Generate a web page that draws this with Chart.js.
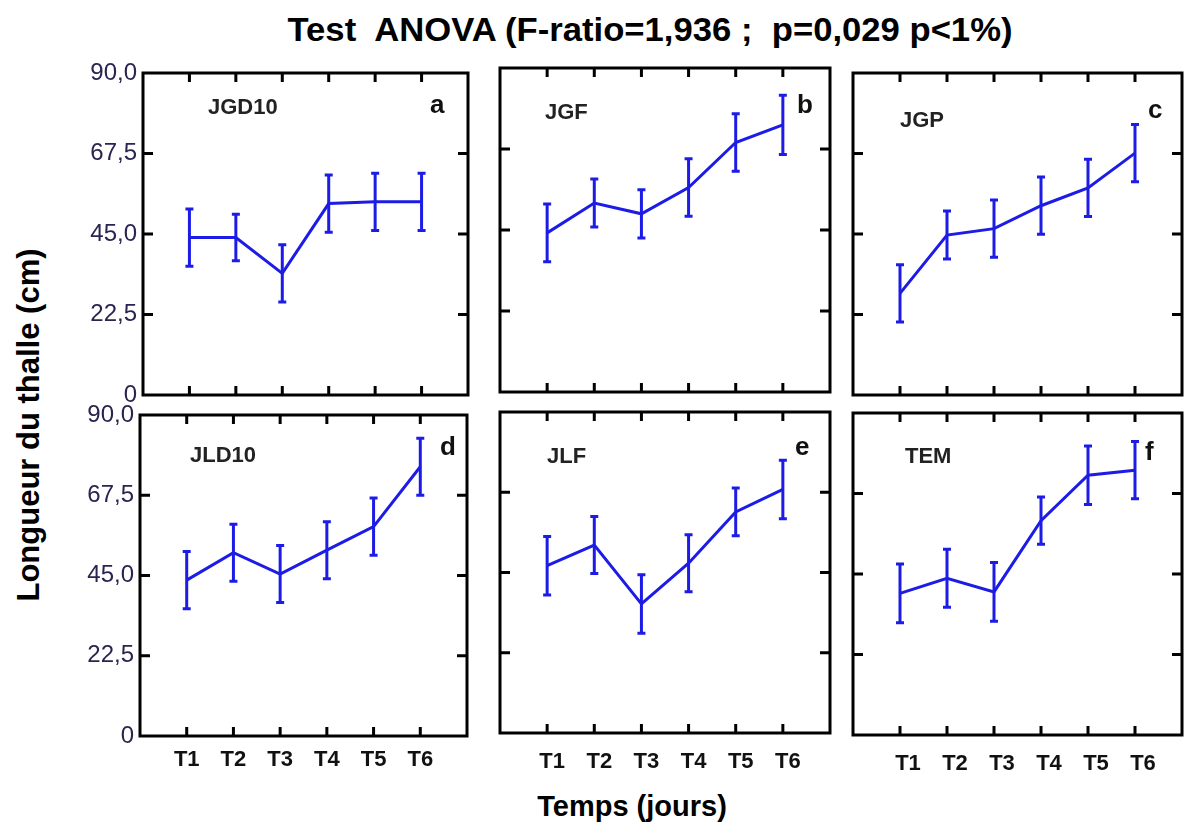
<!DOCTYPE html>
<html>
<head>
<meta charset="utf-8">
<script src="https://cdn.jsdelivr.net/npm/chart.js@4.4.0/dist/chart.umd.min.js"></script>
<style>
body { margin: 0; background: #fff; width: 1184px; height: 829px; overflow: hidden; position: relative; font-family: "Liberation Sans", Arial, sans-serif; }
canvas { position: absolute; }
.txt { position: absolute; font-weight: bold; color: #000; white-space: pre; }
#title { left: 650px; top: 30px; font-size: 33px; transform: translate(-50%, -50%) scaleX(1.05); }
#ytitle { left: 29px; top: 425px; font-size: 31px; transform: translate(-50%, -50%) rotate(-90deg); }
#xtitle { left: 632px; top: 806px; font-size: 29px; transform: translate(-50%, -50%); }
</style>
</head>
<body>
<div class="txt" id="title">Test  ANOVA (F-ratio=1,936 ;  p=0,029 p&lt;1%)</div>
<div class="txt" id="ytitle">Longueur du thalle (cm)</div>
<div class="txt" id="xtitle">Temps (jours)</div>
<script>
// data
const timeLabels = ['T1', 'T2', 'T3', 'T4', 'T5', 'T6'];
const yTickLabels = ['0', '22,5', '45,0', '67,5', '90,0'];

const jgd10Mean = [44, 44, 34, 53.5, 54, 54];
const jgd10Err = [8, 6.5, 8, 8, 8, 8];
const jgfMean = [44.2, 52.5, 49.5, 56.8, 69.3, 74.2];
const jgfErr = [8, 6.7, 6.7, 8, 8, 8.2];
const jgpMean = [28.4, 44.7, 46.5, 52.9, 57.9, 67.6];
const jgpErr = [8, 6.7, 8, 8, 8, 8];
const jld10Mean = [43.7, 51.4, 45.4, 52.1, 58.7, 75.5];
const jld10Err = [8, 8, 8, 8, 8, 8];
const jlfMean = [46.9, 52.7, 36.2, 47.6, 62, 68.3];
const jlfErr = [8.2, 8, 8.2, 8, 6.7, 8.2];
const temMean = [39.6, 43.8, 40, 59.9, 72.6, 74];
const temErr = [8.2, 8.1, 8.2, 6.6, 8.2, 8];

const lineBlue = '#1c1ce6';

// box = plot frame [left, top, right, bottom] in page pixels
const panels = [
  { name: 'JGD10', letter: 'a', mean: jgd10Mean, err: jgd10Err, box: [143, 73, 468, 395], yLabels: true, xLabels: false, nameAt: [65, 35], letterAt: [38, 40] },
  { name: 'JGF', letter: 'b', mean: jgfMean, err: jgfErr, box: [500, 68, 830, 392], yLabels: false, xLabels: false, nameAt: [45, 45], letterAt: [33, 45] },
  { name: 'JGP', letter: 'c', mean: jgpMean, err: jgpErr, box: [853, 73, 1182, 395], yLabels: false, xLabels: false, nameAt: [47, 48], letterAt: [34, 45] },
  { name: 'JLD10', letter: 'd', mean: jld10Mean, err: jld10Err, box: [140, 415, 467, 736], yLabels: true, xLabels: true, nameAt: [50, 41], letterAt: [27, 40], labelPad: 11, labelShift: 0 },
  { name: 'JLF', letter: 'e', mean: jlfMean, err: jlfErr, box: [500, 412, 830, 733], yLabels: false, xLabels: true, nameAt: [47, 45], letterAt: [35, 43], labelPad: 16, labelShift: 5 },
  { name: 'TEM', letter: 'f', mean: temMean, err: temErr, box: [853, 413, 1182, 735], yLabels: false, xLabels: true, nameAt: [52, 44], letterAt: [37, 47], labelPad: 16, labelShift: 8 }
];

const framePlugin = {
  id: 'frame',
  afterDatasetsDraw(chart, args, opts) {
    const p = opts.panel;
    const { ctx, chartArea: a } = chart;
    const x = chart.scales.x, y = chart.scales.y;
    ctx.save();
    // error bars
    ctx.strokeStyle = lineBlue;
    ctx.lineWidth = 3;
    ctx.beginPath();
    p.mean.forEach((m, i) => {
      const px = x.getPixelForValue(i + 1);
      const top = y.getPixelForValue(m + p.err[i]);
      const bot = y.getPixelForValue(m - p.err[i]);
      ctx.moveTo(px, top); ctx.lineTo(px, bot);
      ctx.moveTo(px - 4, top); ctx.lineTo(px + 4, top);
      ctx.moveTo(px - 4, bot); ctx.lineTo(px + 4, bot);
    });
    ctx.stroke();
    // frame with inward ticks
    ctx.strokeStyle = '#000';
    ctx.lineWidth = 3;
    ctx.strokeRect(a.left, a.top, a.right - a.left, a.bottom - a.top);
    ctx.beginPath();
    timeLabels.forEach((t, i) => {
      const px = x.getPixelForValue(i + 1);
      ctx.moveTo(px, a.top); ctx.lineTo(px, a.top + 9);
      ctx.moveTo(px, a.bottom); ctx.lineTo(px, a.bottom - 9);
    });
    [22.5, 45, 67.5].forEach(v => {
      const py = y.getPixelForValue(v);
      ctx.moveTo(a.left, py); ctx.lineTo(a.left + 10, py);
      ctx.moveTo(a.right, py); ctx.lineTo(a.right - 10, py);
    });
    ctx.stroke();
    // panel name and letter
    ctx.fillStyle = '#222';
    ctx.textBaseline = 'middle';
    ctx.textAlign = 'left';
    ctx.font = 'bold 22px "Liberation Sans", Arial, sans-serif';
    ctx.fillText(p.name, a.left + p.nameAt[0], a.top + p.nameAt[1]);
    ctx.fillStyle = '#111';
    ctx.textBaseline = 'alphabetic';
    ctx.font = 'bold 26px "Liberation Sans", Arial, sans-serif';
    ctx.fillText(p.letter, a.right - p.letterAt[0], a.top + p.letterAt[1]);
    ctx.restore();
  }
};

function noPad(s) {
  s.paddingLeft = 0;
  s.paddingRight = 0;
  s.paddingTop = 0;
  s.paddingBottom = 0;
}

panels.forEach(p => {
  const leftM = p.yLabels ? 75 : 6;
  const bottomM = p.xLabels ? 50 : 16;
  const topM = 16, rightM = 2;
  const [bl, bt, br, bb] = p.box;
  const cv = document.createElement('canvas');
  cv.width = br - bl + leftM + rightM;
  cv.height = bb - bt + topM + bottomM;
  cv.style.left = (bl - leftM) + 'px';
  cv.style.top = (bt - topM) + 'px';
  document.body.appendChild(cv);

  new Chart(cv.getContext('2d'), {
    type: 'line',
    data: {
      datasets: [{
        data: p.mean.map((m, i) => ({ x: i + 1, y: m })),
        borderColor: lineBlue,
        borderWidth: 3,
        pointRadius: 0,
        tension: 0,
        fill: false
      }]
    },
    options: {
      responsive: false,
      animation: false,
      devicePixelRatio: 1,
      layout: { padding: { left: 0, top: topM, right: rightM, bottom: 0 } },
      plugins: {
        legend: { display: false },
        tooltip: { enabled: false },
        frame: { panel: p }
      },
      scales: {
        x: {
          type: 'linear',
          min: 0,
          max: 7,
          grid: { display: false, drawTicks: false },
          border: { display: false },
          ticks: {
            display: p.xLabels,
            stepSize: 1,
            autoSkip: false,
            maxRotation: 0,
            padding: p.labelPad || 10,
            labelOffset: p.labelShift || 0,
            color: '#111',
            font: { family: '"Liberation Sans", Arial, sans-serif', size: 22, weight: 'bold' },
            callback: v => timeLabels[v - 1] || ''
          },
          afterFit: s => { s.height = bottomM; noPad(s); }
        },
        y: {
          min: 0,
          max: 90,
          grid: { display: false, drawTicks: false },
          border: { display: false },
          ticks: {
            display: p.yLabels,
            stepSize: 22.5,
            padding: 6,
            color: '#2a2550',
            font: { family: '"Liberation Sans", Arial, sans-serif', size: 24 },
            callback: v => yTickLabels[Math.round(v / 22.5)]
          },
          afterFit: s => { s.width = leftM; noPad(s); }
        }
      }
    },
    plugins: [framePlugin]
  });
});
</script>
</body>
</html>
